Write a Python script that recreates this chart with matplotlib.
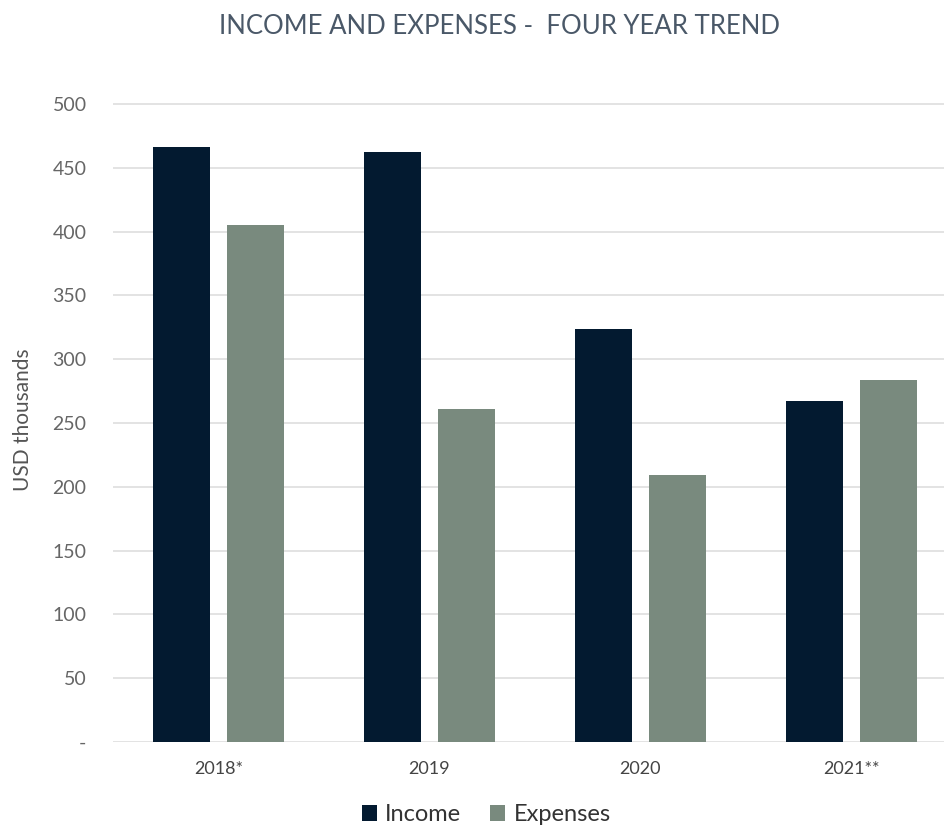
import matplotlib
matplotlib.use("Agg")
import matplotlib.pyplot as plt
import numpy as np

categories = ["2018*", "2019", "2020", "2021**"]
income = [466, 462, 324, 267]
expenses = [405, 261, 209, 284]
yticks = [0, 50, 100, 150, 200, 250, 300, 350, 400, 450, 500]
ytick_labels = ["-", "50", "100", "150", "200", "250", "300", "350", "400", "450", "500"]

plt.rcParams['font.family'] = ['Lato', 'DejaVu Sans']

fig = plt.figure(figsize=(9.44, 8.27), dpi=100)
ax = fig.add_axes([0.1197, 0.1028, 0.8803, 0.7792])

x = np.arange(len(categories))
w = 0.27
off = 0.175
c_inc = "#031a30"
c_exp = "#798a7e"
ax.bar(x - off, income, w, color=c_inc, label="Income", zorder=3)
ax.bar(x + off, expenses, w, color=c_exp, label="Expenses", zorder=3)

ax.set_xlim(-0.5, 3.44)
ax.set_ylim(0, 505)
ax.set_yticks(yticks)
ax.set_yticklabels(ytick_labels)
ax.set_xticks(x)
ax.set_xticklabels(categories)
ax.grid(axis='y', color='#dedede', linewidth=1.2, zorder=0)
for s in ax.spines.values():
    s.set_visible(False)
ax.tick_params(axis='y', length=0, pad=19, labelsize=14, labelcolor='#666666')
ax.tick_params(axis='x', length=0, pad=14, labelsize=13, labelcolor='#444444')
ax.set_ylabel("USD thousands", fontsize=15, color='#555555', labelpad=14)

fig.text(0.529, 0.968, "INCOME AND EXPENSES -  FOUR YEAR TREND", ha='center', va='center',
         fontsize=18.5, color='#4a5868')

leg = fig.legend(loc='center', bbox_to_anchor=(0.515, 0.015), ncol=2, frameon=False,
                 fontsize=17, handlelength=0.65, handleheight=0.65, handletextpad=0.35,
                 columnspacing=1.2, labelcolor='#333333')

fig.savefig("out.png", dpi=100)
